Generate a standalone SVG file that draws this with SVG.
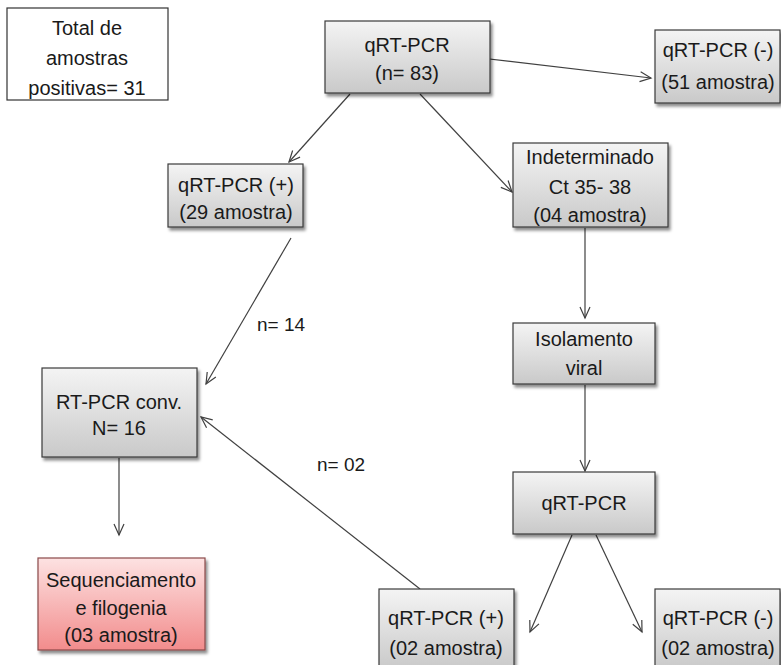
<svg xmlns="http://www.w3.org/2000/svg" width="781" height="665" viewBox="0 0 781 665">
<defs>
<linearGradient id="gGray" x1="0" y1="0" x2="0" y2="1">
<stop offset="0" stop-color="#f4f4f4"/>
<stop offset="1" stop-color="#c9c9c9"/>
</linearGradient>
<linearGradient id="gPink" x1="0" y1="0" x2="0" y2="1">
<stop offset="0" stop-color="#fde2e2"/>
<stop offset="1" stop-color="#f28c8c"/>
</linearGradient>
<filter id="sh" x="-10%" y="-10%" width="130%" height="140%">
<feDropShadow dx="2" dy="3" stdDeviation="1.5" flood-color="#000" flood-opacity="0.45"/>
</filter>
<marker id="ah" markerWidth="14" markerHeight="14" refX="12" refY="7" orient="auto" markerUnits="userSpaceOnUse">
<path d="M1,2 L12,7 L1,12" fill="none" stroke="#404040" stroke-width="1.2"/>
</marker>
</defs>
<style>
.box{fill:url(#gGray);stroke:#3a3a3a;stroke-width:1.2;filter:url(#sh)}
.pink{fill:url(#gPink);stroke:#8a4a4a;stroke-width:1.2;filter:url(#sh)}
.plain{fill:#fff;stroke:#333;stroke-width:1.2}
text{font-family:"Liberation Sans",Arial,sans-serif;font-size:20px;fill:#1a1a1a;text-anchor:middle}
.lbl{text-anchor:start;font-size:19px}
.c{stroke:#404040;stroke-width:1.2;fill:none;marker-end:url(#ah)}
</style>
<rect width="781" height="665" fill="#fff"/>
<g id="connectors">
<line class="c" x1="472" y1="57" x2="651" y2="78"/>
<line class="c" x1="350" y1="94" x2="289" y2="162"/>
<line class="c" x1="420" y1="94" x2="512" y2="192"/>
<line class="c" x1="585" y1="228" x2="585" y2="318"/>
<line class="c" x1="291" y1="238" x2="206" y2="384"/>
<line class="c" x1="420" y1="589" x2="201" y2="417"/>
<line class="c" x1="585" y1="385" x2="585" y2="471"/>
<line class="c" x1="119" y1="458" x2="119" y2="535"/>
<line class="c" x1="572" y1="535" x2="530" y2="632"/>
<line class="c" x1="596" y1="535" x2="642" y2="632"/>
<text class="lbl" x="257" y="331">n= 14</text>
<text class="lbl" x="317" y="471">n= 02</text>
</g>
<g id="total">
<rect class="plain" x="7" y="8" width="161" height="92"/>
<text x="87" y="35">Total de</text>
<text x="87" y="65">amostras</text>
<text x="87" y="95">positivas= 31</text>
</g>
<g id="qrtpcr83">
<rect class="box" x="325" y="21" width="165" height="72"/>
<text x="407" y="52">qRT-PCR</text>
<text x="407" y="80">(n= 83)</text>
</g>
<g id="neg51">
<rect class="box" x="655" y="30" width="125" height="73"/>
<text x="718" y="57">qRT-PCR (-)</text>
<text x="718" y="89">(51 amostra)</text>
</g>
<g id="pos29">
<rect class="box" x="168" y="164" width="135" height="63"/>
<text x="236" y="192">qRT-PCR (+)</text>
<text x="236" y="219">(29 amostra)</text>
</g>
<g id="indet">
<rect class="box" x="513" y="143" width="155" height="84"/>
<text x="590" y="164">Indeterminado</text>
<text x="590" y="194">Ct 35- 38</text>
<text x="590" y="222">(04 amostra)</text>
</g>
<g id="isol">
<rect class="box" x="513" y="323" width="142" height="61"/>
<text x="584" y="346">Isolamento</text>
<text x="584" y="375">viral</text>
</g>
<g id="qrtpcrMid">
<rect class="box" x="513" y="472" width="142" height="62"/>
<text x="584" y="510">qRT-PCR</text>
</g>
<g id="rtpcrconv">
<rect class="box" x="42" y="368" width="155" height="89"/>
<text x="119" y="409">RT-PCR conv.</text>
<text x="119" y="435">N= 16</text>
</g>
<g id="seq">
<rect class="pink" x="38" y="558" width="167" height="92"/>
<text x="121" y="587">Sequenciamento</text>
<text x="121" y="615">e filogenia</text>
<text x="121" y="642">(03 amostra)</text>
</g>
<g id="pos02">
<rect class="box" x="379" y="589" width="135" height="80"/>
<text x="446" y="625">qRT-PCR (+)</text>
<text x="446" y="655">(02 amostra)</text>
</g>
<g id="neg02">
<rect class="box" x="655" y="589" width="125" height="80"/>
<text x="718" y="625">qRT-PCR (-)</text>
<text x="718" y="655">(02 amostra)</text>
</g>
</svg>
